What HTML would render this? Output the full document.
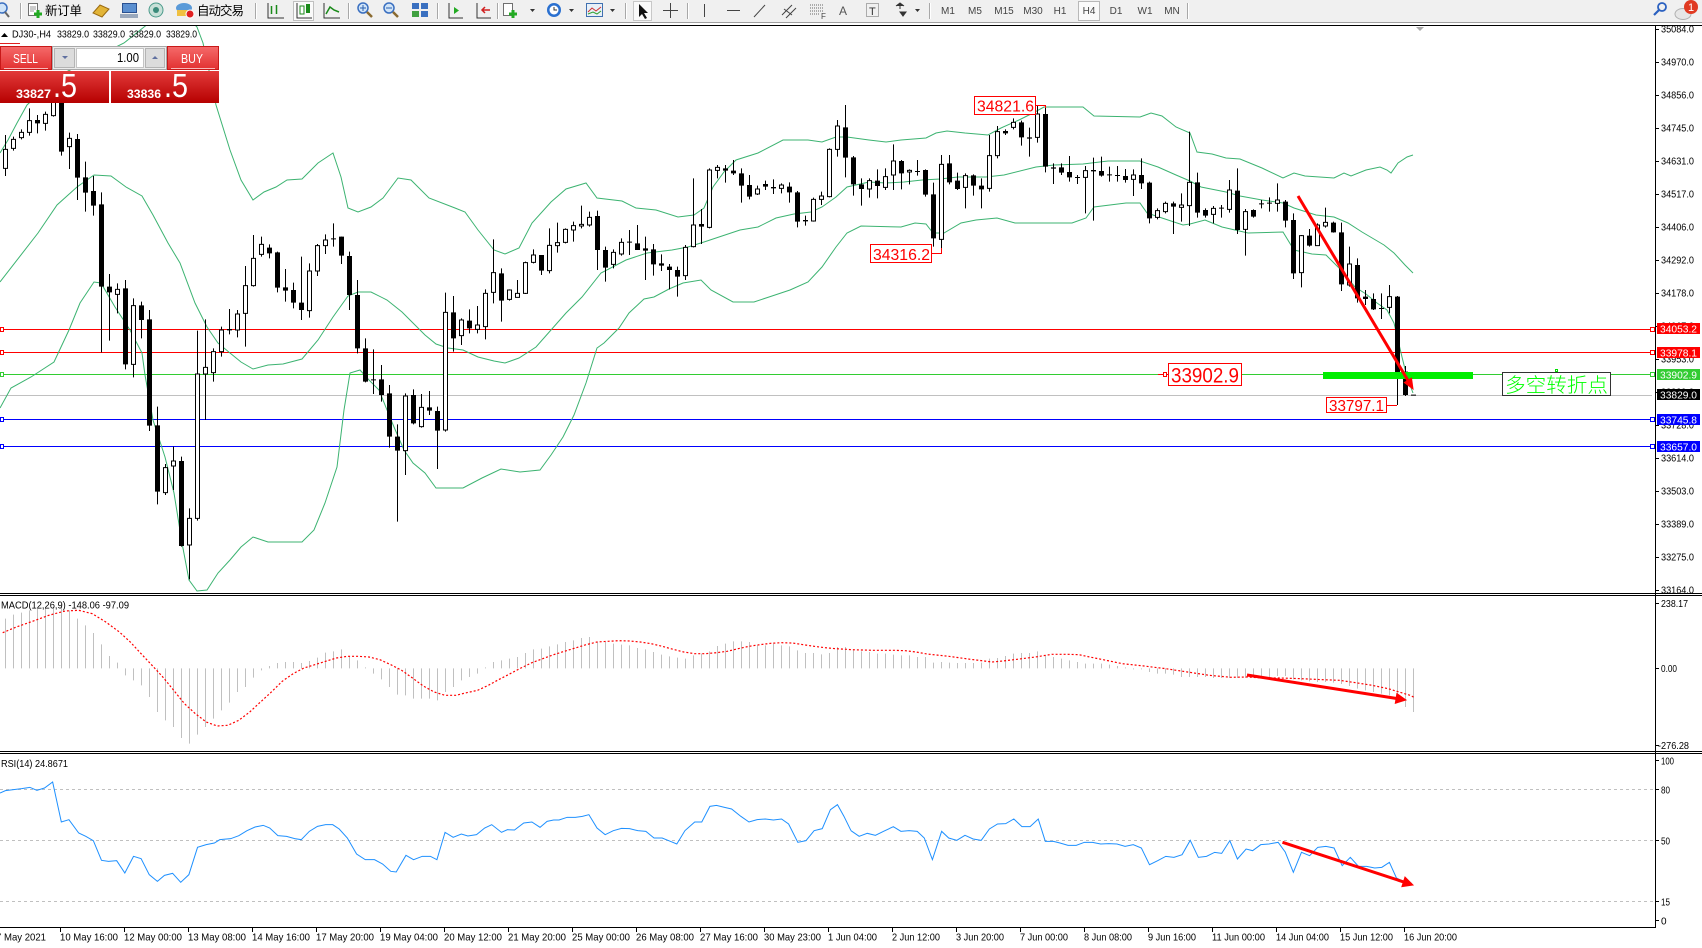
<!DOCTYPE html>
<html><head><meta charset="utf-8"><style>
html,body{margin:0;padding:0;background:#fff;width:1702px;height:948px;overflow:hidden}
svg{display:block}
text{font-family:"Liberation Sans","Noto Sans CJK SC",sans-serif}
</style></head><body>
<svg width="1702" height="948" viewBox="0 0 1702 948" xmlns="http://www.w3.org/2000/svg">
<defs>
<clipPath id="cm"><rect x="0" y="26" width="1655" height="567"/></clipPath>
<clipPath id="cd"><rect x="0" y="596" width="1655" height="155"/></clipPath>
<clipPath id="cr"><rect x="0" y="754" width="1655" height="173"/></clipPath>
<linearGradient id="gh" x1="0" y1="0" x2="0" y2="1"><stop offset="0" stop-color="#f56a6a"/><stop offset="1" stop-color="#e23030"/></linearGradient>
<linearGradient id="gp" x1="0" y1="0" x2="0" y2="1"><stop offset="0" stop-color="#e23a3a"/><stop offset="1" stop-color="#b60000"/></linearGradient>
</defs>

<!-- ================= TOOLBAR ================= -->
<rect x="0" y="0" width="1702" height="22" fill="#f0f0f0"/>
<line x1="0" y1="22.5" x2="1702" y2="22.5" stroke="#a0a0a0"/>
<line x1="0" y1="25.5" x2="1702" y2="25.5" stroke="#000"/>
<g stroke="#a8a8a8"><path d="M20.5 3v16M255.5 3v16M348.5 3v16M437.5 3v16M497.5 3v16M625.5 3v16M687.5 3v16M929.5 3v16M1187.5 3v16"/></g>
<g stroke="#ffffff"><path d="M21.5 3v16M256.5 3v16M349.5 3v16M438.5 3v16M498.5 3v16M626.5 3v16M688.5 3v16M930.5 3v16M1188.5 3v16"/></g>
<circle cx="2" cy="8" r="5" fill="#d0e4f8" stroke="#3a6fc0" stroke-width="1.5"/>
<line x1="5" y1="12" x2="9" y2="17" stroke="#666" stroke-width="2"/>
<rect x="28.5" y="3.5" width="9" height="12" fill="#fff" stroke="#707070"/>
<path d="M30 7h6M30 9h6M30 11h4" stroke="#999"/>
<path d="M34 14h8M38 10v8" stroke="#22aa22" stroke-width="3"/>
<text x="45" y="15" font-size="12.5" textLength="37" fill="#000">新订单</text>
<polygon points="93,13 100,5 109,9 102,17" fill="#e2b437" stroke="#9a6a10"/>
<rect x="122.5" y="3.5" width="14" height="9" fill="#5b8fd0" stroke="#2a5090"/>
<rect x="120" y="14" width="18" height="4" fill="#9aa8bc"/>
<circle cx="156" cy="10" r="7" fill="#c8e0d8" stroke="#4a9a8a"/>
<circle cx="156" cy="10" r="3" fill="#3a8a7a"/>
<ellipse cx="184" cy="8" rx="8" ry="5" fill="#5a9ad8"/>
<rect x="177" y="10" width="12" height="6" fill="#f0c040"/>
<circle cx="190" cy="14" r="4" fill="#e02020" stroke="#fff"/>
<text x="197" y="15" font-size="12.5" textLength="47" fill="#000">自动交易</text>
<path d="M268 3v15h16" stroke="#333" fill="none"/>
<path d="M271.5 6v8M276.5 5v9" stroke="#1a8a1a" stroke-width="1.5"/>
<rect x="293.5" y="1.5" width="20" height="19" fill="#fafafa" stroke="#c0c0c0"/>
<path d="M297 3v15h15" stroke="#333" fill="none"/>
<rect x="300" y="6" width="4" height="8" fill="#fff" stroke="#1a8a1a"/>
<rect x="306" y="4" width="4" height="9" fill="#1a8a1a"/>
<path d="M324 3v15h16" stroke="#333" fill="none"/>
<polyline points="326,14 330,7 334,10 339,12" fill="none" stroke="#1a8a1a" stroke-width="1.5"/>
<circle cx="363" cy="8" r="5" fill="#d0e4f8" stroke="#3a6fc0" stroke-width="1.5"/>
<path d="M360 8h6M363 5v6" stroke="#2a60b0"/>
<line x1="367" y1="12" x2="372" y2="17" stroke="#8a6a30" stroke-width="2.5"/>
<circle cx="389" cy="8" r="5" fill="#d0e4f8" stroke="#3a6fc0" stroke-width="1.5"/>
<path d="M386 8h6" stroke="#2a60b0"/>
<line x1="393" y1="12" x2="398" y2="17" stroke="#8a6a30" stroke-width="2.5"/>
<rect x="412" y="3" width="7" height="6" fill="#3a70c0"/><rect x="421" y="3" width="7" height="6" fill="#3a70c0"/>
<rect x="412" y="11" width="7" height="6" fill="#40a040"/><rect x="421" y="11" width="7" height="6" fill="#3a70c0"/>
<path d="M449 3v15h14" stroke="#333" fill="none"/>
<polygon points="454,7 454,14 459,10.5" fill="#22aa22"/>
<path d="M477 3v15h14" stroke="#333" fill="none"/>
<path d="M482 10h8M485 7l-3 3 3 3" stroke="#d02020" fill="none" stroke-width="1.5"/>
<rect x="503.5" y="3.5" width="9" height="12" fill="#fff" stroke="#707070"/>
<path d="M509 14h8M513 10v8" stroke="#22aa22" stroke-width="3"/>
<polygon points="530,9 535,9 532.5,12" fill="#333"/>
<circle cx="554" cy="10" r="7" fill="#2a70d0"/><circle cx="554" cy="10" r="4.5" fill="#fff"/>
<path d="M554 7v3h3" stroke="#333" fill="none"/>
<polygon points="569,9 574,9 571.5,12" fill="#333"/>
<rect x="586.5" y="3.5" width="16" height="13" fill="#e8f0f8" stroke="#4070b0"/>
<polyline points="588,12 592,8 596,11 601,7" fill="none" stroke="#d03030"/>
<polyline points="588,14 593,12 597,14 601,11" fill="none" stroke="#30a030"/>
<polygon points="610,9 615,9 612.5,12" fill="#333"/>
<rect x="633.5" y="1.5" width="18" height="19" fill="#fafafa" stroke="#c8c8c8"/>
<polygon points="639,4 639,17 642,14 645,19 647,18 644,13 648,13" fill="#111"/>
<path d="M670.5 3v15M663 10.5h15" stroke="#444"/>
<path d="M704.5 4v13" stroke="#444"/>
<path d="M727 10.5h13" stroke="#444"/>
<path d="M754 17l11-12" stroke="#444"/>
<path d="M782 15l10-10M786 18l10-10M784 9l8 6" stroke="#444"/>
<path d="M810 5h14M810 8h14M810 11h14M810 14h10" stroke="#666" stroke-dasharray="1 1"/>
<text x="821" y="19" font-size="8" fill="#444">F</text>
<text x="839" y="15" font-size="12" fill="#555">A</text>
<rect x="866.5" y="3.5" width="12" height="13" fill="none" stroke="#666" stroke-dasharray="1 1"/>
<text x="869" y="15" font-size="11" fill="#333">T</text>
<path d="M896 6l4-3 4 3M900 3v6M900 12l3 4 3-4z" stroke="#333" fill="#333"/>
<polygon points="915,9 920,9 917.5,12" fill="#333"/>
<rect x="1078.5" y="1.5" width="21" height="19" fill="#fafafa" stroke="#b8b8b8"/>
<g font-size="10" fill="#444" text-anchor="middle">
<text x="948" y="14">M1</text><text x="975" y="14">M5</text><text x="1004" y="14">M15</text><text x="1033" y="14">M30</text>
<text x="1060" y="14">H1</text><text x="1089" y="14">H4</text><text x="1116" y="14">D1</text><text x="1145" y="14">W1</text><text x="1172" y="14">MN</text>
</g>
<circle cx="1662" cy="7" r="4" fill="none" stroke="#2a60c0" stroke-width="1.8"/>
<line x1="1659" y1="10" x2="1654" y2="15" stroke="#2a60c0" stroke-width="2.2"/>
<ellipse cx="1683" cy="14" rx="8" ry="5.5" fill="#e6e6e6" stroke="#b0b0b0"/>
<circle cx="1691" cy="7" r="7" fill="#e03a22"/>
<text x="1691" y="11" font-size="11" fill="#fff" text-anchor="middle">1</text>

<!-- ================= MAIN CHART ================= -->
<g clip-path="url(#cm)">
<path d="M0 329.5h1652" stroke="#ff0000"/>
<path d="M0 352.5h1652" stroke="#ff0000"/>
<path d="M0 374.5h1652" stroke="#32cd32"/>
<path d="M0 395.5h1652" stroke="#c0c0c0"/>
<path d="M0 419.5h1652" stroke="#0000ff"/>
<path d="M0 446.5h1652" stroke="#0000ff"/>
<rect x="0.5" y="327.5" width="3" height="4" fill="#fff" stroke="#ff0000"/>
<rect x="0.5" y="350.5" width="3" height="4" fill="#fff" stroke="#ff0000"/>
<rect x="0.5" y="372.5" width="3" height="4" fill="#fff" stroke="#32cd32"/>
<rect x="0.5" y="417.5" width="3" height="4" fill="#fff" stroke="#0000ff"/>
<rect x="0.5" y="444.5" width="3" height="4" fill="#fff" stroke="#0000ff"/>
<rect x="1650.5" y="327.5" width="4" height="4" fill="#fff" stroke="#ff0000"/>
<rect x="1650.5" y="350.5" width="4" height="4" fill="#fff" stroke="#ff0000"/>
<rect x="1650.5" y="372.5" width="4" height="4" fill="#fff" stroke="#32cd32"/>
<rect x="1650.5" y="417.5" width="4" height="4" fill="#fff" stroke="#0000ff"/>
<rect x="1650.5" y="444.5" width="4" height="4" fill="#fff" stroke="#0000ff"/>

<g fill="none" stroke="#3cb371" stroke-width="1">
<polyline points="0,153 8,140 17,123 27,105 60,75 100,55 124,43 144,27 160,15 185,15 197,27 203,43 210,75 216,105 230,150 241,180 253,200 264,192 276,187 287,180 302,179 318,163 333,153 341,177 348,208 358,212 371,207 383,198 398,178 411,180 429,198 455,208 465,212 478,230 494,250 505,254 519,248 532,223 551,202 566,189 586,183 597,198 622,201 636,208 656,210 678,217 694,215 704,208 713,187 724,172 736,160 758,153 783,140 808,140 822,142 836,137 847,137 869,140 886,142 901,140 926,138 936,133 947,131 965,133 988,135 1001,128 1019,120 1033,113 1044,107 1083,107 1094,116 1140,117 1151,113 1162,116 1176,127 1190,133 1197,152 1212,154 1226,158 1240,159 1262,168 1283,178 1294,173 1305,176 1334,178 1344,173 1351,176 1366,170 1380,167 1387,170 1391,173 1398,163 1407,157 1413,155"/>
<polyline points="0,282 38,233 57,205 77,187 94,175 111,176 126,187 142,196 153,215 168,243 180,263 195,303 207,327 218,343 230,353 241,362 253,369 268,365 283,364 302,359 318,340 333,317 348,296 358,292 371,292 387,300 402,312 413,323 425,335 436,344 448,348 463,350 478,357 494,361 505,363 519,358 536,347 551,330 566,313 582,297 601,273 626,260 647,253 672,250 688,247 704,242 719,237 740,230 758,227 776,218 794,214 811,212 822,207 836,197 847,187 869,182 886,183 904,182 922,180 940,179 958,177 986,177 1004,175 1036,167 1054,165 1083,164 1108,161 1140,161 1158,167 1176,175 1190,181 1201,187 1226,192 1240,196 1262,200 1283,203 1294,208 1316,215 1334,217 1348,223 1362,232 1384,245 1394,253 1405,265 1413,273"/>
<polyline points="0,408 11,388 31,377 54,362 69,330 80,303 94,282 101,283 115,307 130,330 142,353 145,375 153,420 165,457 174,493 182,543 189,580 197,591 207,590 218,573 230,560 241,547 253,537 268,542 283,542 302,542 314,530 325,503 337,467 344,410 350,373 360,370 369,380 379,390 387,410 394,427 404,450 413,463 425,473 436,488 463,488 482,478 501,469 520,472 540,470 551,455 563,437 574,415 586,383 597,348 604,343 619,328 629,313 644,299 654,297 669,289 683,283 701,280 711,290 733,302 754,302 769,297 790,290 808,282 822,267 836,247 847,233 861,226 901,227 915,223 926,224 933,233 944,233 961,223 976,220 997,218 1015,223 1072,223 1086,218 1094,207 1126,203 1140,203 1147,213 1162,218 1183,225 1190,224 1205,220 1222,227 1248,233 1283,232 1294,250 1312,254 1326,255 1341,270 1355,287 1366,294 1377,303 1387,310 1394,323 1402,357 1407,377 1413,393"/>
</g>

<g transform="translate(0,90) scale(1,0.3333333)">
<path stroke="#000" stroke-width="1" fill="none" d="M5.5 135V258M13.5 140V182M21.5 118V148M29.5 55V137M37.5 75V130M45.5 65V122M53.5 20V80M61.5 -10V197M69.5 128V237M77.5 132V330M85.5 215V365M93.5 258V377M101.5 307V787M109.5 552V752M117.5 580V670M125.5 570V838M133.5 625V862M141.5 635V745M149.5 660V1023M157.5 950V1243M165.5 1122V1215M173.5 1070V1200M181.5 1100V1370M189.5 1255V1468M197.5 722V1292M205.5 688V990M213.5 775V875M221.5 710V800M229.5 657V733M237.5 660V742M245.5 528V770M253.5 435V590M261.5 440V500M269.5 463V505M277.5 485V607M285.5 537V635M293.5 578V655M301.5 500V690M309.5 520V683M317.5 462V558M325.5 433V492M333.5 400V470M341.5 440V522M349.5 485V660M357.5 570V790M365.5 745V877M373.5 778V912M381.5 825V935M389.5 885V1073M397.5 1003V1295M405.5 910V1155M413.5 898V1003M421.5 912V1013M429.5 903V975M437.5 950V1137M445.5 608V1025M453.5 618V785M461.5 685V765M469.5 658V730M477.5 648V730M485.5 598V748M493.5 448V640M501.5 535V695M509.5 598V632M517.5 570V622M525.5 515V612M533.5 478V520M541.5 495V555M549.5 415V550M557.5 398V488M565.5 415V460M573.5 395V455M581.5 347V415M589.5 365V410M597.5 362V540M605.5 470V575M613.5 478V535M621.5 445V497M629.5 420V495M637.5 405V480M645.5 440V570M653.5 462V557M661.5 493V543M669.5 522V598M677.5 530V620M685.5 465V570M693.5 265V472M701.5 357V462M709.5 235V415M717.5 225V265M725.5 225V278M733.5 210V255M741.5 235V338M749.5 255V328M757.5 287V315M765.5 272V300M773.5 268V312M781.5 280V310M789.5 277V338M797.5 303V412M805.5 377V407M813.5 323V395M821.5 305V345M829.5 175V322M837.5 90V200M845.5 45V262M853.5 198V317M861.5 265V347M869.5 265V323M877.5 238V325M885.5 235V300M893.5 163V300M901.5 210V298M909.5 238V283M917.5 210V257M925.5 238V320M933.5 278V470M941.5 195V492M949.5 195V283M957.5 248V300M965.5 250V355M973.5 253V317M981.5 265V355M989.5 135V305M997.5 108V205M1005.5 118V135M1013.5 85V118M1021.5 92V167M1029.5 113V200M1037.5 48V158M1045.5 47V247M1053.5 220V282M1061.5 220V255M1069.5 198V275M1077.5 255V282M1085.5 228V370M1093.5 203V392M1101.5 200V260M1109.5 230V275M1117.5 228V275M1125.5 237V278M1133.5 238V318M1141.5 205V297M1149.5 275V400M1157.5 355V388M1165.5 335V370M1173.5 335V432M1181.5 310V395M1189.5 125V408M1197.5 248V383M1205.5 355V383M1213.5 348V400M1221.5 345V383M1229.5 270V368M1237.5 235V432M1245.5 357V497M1253.5 358V383M1261.5 330V355M1269.5 322V365M1277.5 280V365M1285.5 330V412M1293.5 370V567M1301.5 435V592M1309.5 417V470M1317.5 400V467M1325.5 353V413M1333.5 395V428M1341.5 398V603M1349.5 470V590M1357.5 505V638M1365.5 600V645M1373.5 610V660M1381.5 610V687M1389.5 585V670M1397.5 618V945M1405.5 828V918"/>
<path fill="#000" d="M35 90h5V100h-5zM59 0h5V185h-5zM75 147h5V263h-5zM83 262h5V308h-5zM91 303h5V347h-5zM99 343h5V590h-5zM107 590h5V607h-5zM123 595h5V823h-5zM139 646h5V690h-5zM147 688h5V1007h-5zM155 1006h5V1205h-5zM179 1113h5V1368h-5zM227 717h5V721h-5zM267 473h5V490h-5zM275 487h5V593h-5zM283 592h5V602h-5zM291 600h5V638h-5zM299 638h5V660h-5zM331 445h5V448h-5zM339 440h5V497h-5zM347 498h5V615h-5zM355 615h5V775h-5zM363 775h5V875h-5zM371 868h5V871h-5zM379 868h5V915h-5zM387 910h5V1040h-5zM395 1040h5V1082h-5zM411 915h5V1000h-5zM427 952h5V962h-5zM435 963h5V1022h-5zM451 667h5V745h-5zM467 692h5V715h-5zM499 550h5V632h-5zM539 495h5V542h-5zM595 378h5V480h-5zM603 480h5V533h-5zM627 455h5V458h-5zM635 460h5V480h-5zM643 475h5V482h-5zM651 478h5V523h-5zM659 520h5V527h-5zM667 530h5V540h-5zM675 540h5V560h-5zM699 402h5V410h-5zM723 235h5V242h-5zM731 242h5V250h-5zM739 250h5V287h-5zM747 285h5V320h-5zM763 282h5V290h-5zM771 291h5V295h-5zM787 290h5V307h-5zM795 307h5V395h-5zM803 390h5V394h-5zM843 112h5V203h-5zM851 202h5V283h-5zM859 283h5V297h-5zM875 272h5V288h-5zM899 213h5V250h-5zM915 243h5V246h-5zM923 240h5V314h-5zM931 313h5V445h-5zM947 220h5V277h-5zM955 272h5V297h-5zM971 256h5V287h-5zM979 287h5V298h-5zM1003 123h5V130h-5zM1019 97h5V142h-5zM1027 142h5V146h-5zM1043 72h5V230h-5zM1051 232h5V236h-5zM1059 232h5V248h-5zM1067 246h5V262h-5zM1075 261h5V264h-5zM1091 240h5V244h-5zM1099 243h5V257h-5zM1107 253h5V256h-5zM1115 255h5V258h-5zM1123 258h5V270h-5zM1139 255h5V280h-5zM1147 278h5V385h-5zM1171 340h5V350h-5zM1195 277h5V368h-5zM1203 360h5V377h-5zM1219 353h5V356h-5zM1235 302h5V420h-5zM1251 360h5V380h-5zM1259 340h5V343h-5zM1267 338h5V341h-5zM1283 335h5V392h-5zM1291 390h5V550h-5zM1307 437h5V467h-5zM1331 398h5V427h-5zM1339 427h5V583h-5zM1355 525h5V625h-5zM1363 620h5V627h-5zM1371 627h5V658h-5zM1379 654h5V657h-5zM1395 620h5V853h-5zM1403 845h5V915h-5zM1411 914h5V917h-5z"/>
<path fill="#fff" stroke="#000" stroke-width="1" vector-effect="non-scaling-stroke" d="M3.5 178h4V235h-4zM11.5 148h4V175h-4zM19.5 127h4V143h-4zM27.5 92h4V127h-4zM43.5 73h4V100h-4zM51.5 30h4V77h-4zM67.5 145h4V170h-4zM115.5 598h4V613h-4zM131.5 647h4V823h-4zM163.5 1133h4V1208h-4zM171.5 1113h4V1128h-4zM187.5 1285h4V1365h-4zM195.5 852h4V1285h-4zM203.5 832h4V852h-4zM211.5 785h4V848h-4zM219.5 720h4V785h-4zM235.5 672h4V720h-4zM243.5 587h4V670h-4zM251.5 505h4V587h-4zM259.5 463h4V493h-4zM307.5 543h4V662h-4zM315.5 467h4V543h-4zM323.5 450h4V467h-4zM403.5 918h4V1082h-4zM419.5 952h4V1010h-4zM443.5 667h4V1020h-4zM459.5 690h4V737h-4zM475.5 705h4V718h-4zM483.5 610h4V710h-4zM491.5 548h4V607h-4zM507.5 600h4V628h-4zM515.5 610h4V622h-4zM523.5 518h4V610h-4zM531.5 495h4V517h-4zM547.5 466h4V542h-4zM555.5 458h4V467h-4zM563.5 418h4V457h-4zM571.5 407h4V420h-4zM579.5 403h4V408h-4zM587.5 382h4V405h-4zM611.5 487h4V523h-4zM619.5 457h4V492h-4zM683.5 472h4V557h-4zM691.5 405h4V470h-4zM707.5 240h4V412h-4zM715.5 232h4V241h-4zM755.5 297h4V312h-4zM779.5 285h4V295h-4zM811.5 328h4V393h-4zM819.5 318h4V328h-4zM827.5 178h4V320h-4zM835.5 108h4V178h-4zM867.5 272h4V297h-4zM883.5 260h4V292h-4zM891.5 213h4V255h-4zM907.5 241h4V246h-4zM939.5 223h4V448h-4zM963.5 257h4V292h-4zM987.5 197h4V295h-4zM995.5 125h4V197h-4zM1011.5 97h4V112h-4zM1035.5 72h4V142h-4zM1083.5 242h4V262h-4zM1131.5 255h4V268h-4zM1155.5 362h4V382h-4zM1163.5 340h4V365h-4zM1179.5 345h4V352h-4zM1187.5 277h4V347h-4zM1211.5 355h4V373h-4zM1227.5 300h4V358h-4zM1243.5 365h4V418h-4zM1275.5 330h4V340h-4zM1299.5 437h4V548h-4zM1315.5 405h4V467h-4zM1323.5 397h4V408h-4zM1347.5 522h4V585h-4zM1387.5 620h4V652h-4z"/>
</g>

<rect x="1323" y="372" width="150" height="7" fill="#00ee00"/>
<line x1="1298" y1="196" x2="1408" y2="380.5" stroke="#ff0000" stroke-width="3"/>
<polygon points="1413,389 1404.3,382.6 1411.5,378.2" fill="#ff0000" stroke="#ff0000"/>

<path d="M1036 105.5h9.5V108" stroke="#ff0000" fill="none"/>
<rect x="974.5" y="96.5" width="61" height="18" fill="#fff" stroke="#ff0000"/>
<text x="977" y="111.5" font-size="16" fill="#ff0000" textLength="57" lengthAdjust="spacingAndGlyphs">34821.6</text>
<path d="M932 253.5h9.5V248" stroke="#ff0000" fill="none"/>
<rect x="870.5" y="244.5" width="61" height="18" fill="#fff" stroke="#ff0000"/>
<text x="873" y="260" font-size="16" fill="#ff0000" textLength="57" lengthAdjust="spacingAndGlyphs">34316.2</text>
<path d="M1158 374.5h10" stroke="#ff0000"/>
<rect x="1163.5" y="372.5" width="3" height="4" fill="#fff" stroke="#ff0000"/>
<rect x="1168.5" y="363.5" width="73" height="22" fill="#fff" stroke="#ff0000"/>
<text x="1171" y="382.5" font-size="21" fill="#ff0000" textLength="68" lengthAdjust="spacingAndGlyphs">33902.9</text>
<path d="M1387 405.5h10" stroke="#ff0000"/>
<rect x="1326.5" y="397.5" width="60" height="15" fill="#fff" stroke="#ff0000"/>
<text x="1329" y="411" font-size="16" fill="#ff0000" textLength="55" lengthAdjust="spacingAndGlyphs">33797.1</text>
<rect x="1502.5" y="372.5" width="108" height="23" fill="#fff" stroke="#333"/>
<rect x="1555.5" y="369.5" width="2" height="2" fill="none" stroke="#00dd00"/>
<text x="1505" y="392" font-size="20" font-weight="300" fill="#00ff00" textLength="103" lengthAdjust="spacingAndGlyphs" style='font-family:"Liberation Sans","Noto Sans CJK SC",sans-serif'>多空转折点</text>

<polygon points="1,37 8,37 4.5,33" fill="#000"/>
<text x="12" y="37.5" font-size="10" fill="#000" textLength="39" lengthAdjust="spacingAndGlyphs">DJ30-,H4</text>
<text x="57" y="37.5" font-size="10" fill="#000" textLength="32" lengthAdjust="spacingAndGlyphs">33829.0</text>
<text x="93" y="37.5" font-size="10" fill="#000" textLength="32" lengthAdjust="spacingAndGlyphs">33829.0</text>
<text x="129" y="37.5" font-size="10" fill="#000" textLength="32" lengthAdjust="spacingAndGlyphs">33829.0</text>
<text x="166" y="37.5" font-size="10" fill="#000" textLength="31" lengthAdjust="spacingAndGlyphs">33829.0</text>
<polygon points="1416,27 1424,27 1420,31" fill="#a8a8a8"/>
</g>

<line x1="0" y1="43.5" x2="20" y2="43.5" stroke="#e02020"/>
<rect x="0.5" y="46.5" width="51" height="23" fill="url(#gh)" stroke="#c81818"/>
<text x="13" y="63" font-size="12.5" fill="#fff" textLength="25" lengthAdjust="spacingAndGlyphs">SELL</text>
<line x1="4" y1="68.5" x2="48" y2="68.5" stroke="#f8b8b8"/>
<rect x="52.5" y="46.5" width="114" height="23" fill="#ececec" stroke="#a8a8a8"/>
<rect x="54.5" y="48.5" width="20" height="19" fill="#dcdcdc" stroke="#b4b4b4"/>
<polygon points="62,56 68,56 65,59" fill="#6070a0"/>
<rect x="76.5" y="48.5" width="67" height="19" fill="#fff" stroke="#c4c4c4"/>
<text x="117" y="62" font-size="12.5" fill="#000" textLength="22" lengthAdjust="spacingAndGlyphs">1.00</text>
<rect x="145.5" y="48.5" width="19" height="19" fill="#dcdcdc" stroke="#b4b4b4"/>
<polygon points="152,59 158,59 155,56" fill="#6070a0"/>
<rect x="167.5" y="46.5" width="51" height="23" fill="url(#gh)" stroke="#c81818"/>
<text x="181" y="63" font-size="12.5" fill="#fff" textLength="22" lengthAdjust="spacingAndGlyphs">BUY</text>
<line x1="171" y1="68.5" x2="215" y2="68.5" stroke="#f8b8b8"/>
<rect x="0" y="71" width="109" height="32" fill="url(#gp)"/>
<rect x="111" y="71" width="108" height="32" fill="url(#gp)"/>
<text x="16" y="98" font-size="11.5" font-weight="bold" fill="#fff" textLength="35" lengthAdjust="spacingAndGlyphs">33827</text>
<text x="53" y="97" font-size="33" fill="#fff" textLength="24" lengthAdjust="spacingAndGlyphs">.5</text>
<text x="127" y="98" font-size="11.5" font-weight="bold" fill="#fff" textLength="34" lengthAdjust="spacingAndGlyphs">33836</text>
<text x="164" y="97" font-size="33" fill="#fff" textLength="24" lengthAdjust="spacingAndGlyphs">.5</text>

<path d="M0 593.5h1702M0 595.5h1702M0 751.5h1702M0 753.5h1702M0 927.5h1656" stroke="#000"/>
<path d="M1655.5 26v902" stroke="#000"/>

<path stroke="#000" d="M1655 29.5h4M1655 62.5h4M1655 95.5h4M1655 128.5h4M1655 161.5h4M1655 194.5h4M1655 227.5h4M1655 260.5h4M1655 293.5h4M1655 326.5h4M1655 359.5h4M1655 392.5h4M1655 425.5h4M1655 458.5h4M1655 491.5h4M1655 524.5h4M1655 557.5h4M1655 590.5h4M1655 603.5h4M1655 668.5h4M1655 745.5h4M1655 760.5h4M1655 789.5h4M1655 840.5h4M1655 901.5h4M1655 920.5h4"/>
<g font-size="10" fill="#000">
<text x="1661" y="32.5" textLength="33" lengthAdjust="spacingAndGlyphs">35084.0</text>
<text x="1661" y="65.5" textLength="33" lengthAdjust="spacingAndGlyphs">34970.0</text>
<text x="1661" y="98.5" textLength="33" lengthAdjust="spacingAndGlyphs">34856.0</text>
<text x="1661" y="131.5" textLength="33" lengthAdjust="spacingAndGlyphs">34745.0</text>
<text x="1661" y="164.5" textLength="33" lengthAdjust="spacingAndGlyphs">34631.0</text>
<text x="1661" y="197.5" textLength="33" lengthAdjust="spacingAndGlyphs">34517.0</text>
<text x="1661" y="230.5" textLength="33" lengthAdjust="spacingAndGlyphs">34406.0</text>
<text x="1661" y="263.5" textLength="33" lengthAdjust="spacingAndGlyphs">34292.0</text>
<text x="1661" y="296.5" textLength="33" lengthAdjust="spacingAndGlyphs">34178.0</text>
<text x="1661" y="329.5" textLength="33" lengthAdjust="spacingAndGlyphs">34067.0</text>
<text x="1661" y="362.5" textLength="33" lengthAdjust="spacingAndGlyphs">33953.0</text>
<text x="1661" y="395.5" textLength="33" lengthAdjust="spacingAndGlyphs">33839.0</text>
<text x="1661" y="428.5" textLength="33" lengthAdjust="spacingAndGlyphs">33728.0</text>
<text x="1661" y="461.5" textLength="33" lengthAdjust="spacingAndGlyphs">33614.0</text>
<text x="1661" y="494.5" textLength="33" lengthAdjust="spacingAndGlyphs">33503.0</text>
<text x="1661" y="527.5" textLength="33" lengthAdjust="spacingAndGlyphs">33389.0</text>
<text x="1661" y="560.5" textLength="33" lengthAdjust="spacingAndGlyphs">33275.0</text>
<text x="1661" y="593.5" textLength="33" lengthAdjust="spacingAndGlyphs">33164.0</text>
<text x="1661" y="607" textLength="27" lengthAdjust="spacingAndGlyphs">238.17</text>
<text x="1661" y="672" textLength="16" lengthAdjust="spacingAndGlyphs">0.00</text>
<text x="1658" y="749" textLength="31" lengthAdjust="spacingAndGlyphs">-276.28</text>
<text x="1661" y="764.5" textLength="13" lengthAdjust="spacingAndGlyphs">100</text>
<text x="1661" y="793.5" textLength="9" lengthAdjust="spacingAndGlyphs">80</text>
<text x="1661" y="844.5" textLength="9" lengthAdjust="spacingAndGlyphs">50</text>
<text x="1661" y="905.5" textLength="9" lengthAdjust="spacingAndGlyphs">15</text>
<text x="1661" y="924.5">0</text>
</g>
<g font-size="10.5" fill="#fff">
<rect x="1657" y="323" width="43" height="11" fill="#ff0000"/>
<text x="1660" y="332.5" textLength="37" lengthAdjust="spacingAndGlyphs">34053.2</text>
<rect x="1657" y="347" width="43" height="11" fill="#ff0000"/>
<text x="1660" y="356.5" textLength="37" lengthAdjust="spacingAndGlyphs">33978.1</text>
<rect x="1657" y="369" width="43" height="11" fill="#33cc33"/>
<text x="1660" y="378.5" textLength="37" lengthAdjust="spacingAndGlyphs">33902.9</text>
<rect x="1657" y="389" width="43" height="11" fill="#000"/>
<text x="1660" y="398.5" textLength="37" lengthAdjust="spacingAndGlyphs">33829.0</text>
<rect x="1657" y="414" width="43" height="11" fill="#0000ff"/>
<text x="1660" y="423.5" textLength="37" lengthAdjust="spacingAndGlyphs">33745.8</text>
<rect x="1657" y="441" width="43" height="11" fill="#0000ff"/>
<text x="1660" y="450.5" textLength="37" lengthAdjust="spacingAndGlyphs">33657.0</text>
</g>

<!-- ================= MACD ================= -->
<g clip-path="url(#cd)">
<g transform="translate(0,592) scale(1,0.3333333)">
<path stroke="#c0c0c0" stroke-width="1" fill="none" d="M5.5 229V80M13.5 229V68M21.5 229V62M29.5 229V55M37.5 229V50M45.5 229V48M53.5 229V45M61.5 229V42M69.5 229V55M77.5 229V80M85.5 229V100M93.5 229V123M101.5 229V157M109.5 229V192M117.5 229V212M125.5 229V250M133.5 229V265M141.5 229V280M149.5 229V315M157.5 229V360M165.5 229V385M173.5 229V405M181.5 229V438M189.5 229V455M197.5 229V428M205.5 229V405M213.5 229V380M221.5 229V355M229.5 229V332M237.5 229V300M245.5 229V285M253.5 229V257M261.5 229V235M269.5 229V222M277.5 229V213M285.5 229V210M293.5 229V210M301.5 229V213M309.5 229V207M317.5 229V197M325.5 229V182M333.5 229V178M341.5 229V172M349.5 229V192M357.5 229V205M365.5 229V226M373.5 229V245M381.5 229V262M389.5 229V285M397.5 229V308M405.5 229V310M413.5 229V320M421.5 229V320M429.5 229V320M437.5 229V325M445.5 229V300M453.5 229V285M461.5 229V265M469.5 229V255M477.5 229V245M485.5 229V226M493.5 229V210M501.5 229V205M509.5 229V200M517.5 229V195M525.5 229V183M533.5 229V172M541.5 229V170M549.5 229V163M557.5 229V157M565.5 229V150M573.5 229V145M581.5 229V138M589.5 229V135M597.5 229V150M605.5 229V150M613.5 229V155M621.5 229V158M629.5 229V160M637.5 229V168M645.5 229V172M653.5 229V180M661.5 229V188M669.5 229V193M677.5 229V197M685.5 229V200M693.5 229V190M701.5 229V185M709.5 229V178M717.5 229V162M725.5 229V155M733.5 229V148M741.5 229V148M749.5 229V150M757.5 229V160M765.5 229V160M773.5 229V155M781.5 229V160M789.5 229V163M797.5 229V175M805.5 229V183M813.5 229V183M821.5 229V187M829.5 229V183M837.5 229V165M845.5 229V165M853.5 229V175M861.5 229V178M869.5 229V180M877.5 229V185M885.5 229V185M893.5 229V188M901.5 229V190M909.5 229V190M917.5 229V195M925.5 229V195M933.5 229V212M941.5 229V210M949.5 229V212M957.5 229V213M965.5 229V213M973.5 229V213M981.5 229V212M989.5 229V200M997.5 229V198M1005.5 229V192M1013.5 229V185M1021.5 229V183M1029.5 229V183M1037.5 229V178M1045.5 229V190M1053.5 229V195M1061.5 229V200M1069.5 229V205M1077.5 229V210M1085.5 229V215M1093.5 229V215M1101.5 229V215M1109.5 229V218M1117.5 229V222M1125.5 229V226M1133.5 229V232M1141.5 229V232M1149.5 229V240M1157.5 229V245M1165.5 229V245M1173.5 229V248M1181.5 229V255M1189.5 229V255M1197.5 229V255M1205.5 229V255M1213.5 229V258M1221.5 229V258M1229.5 229V258M1237.5 229V258M1245.5 229V258M1253.5 229V250M1261.5 229V255M1269.5 229V255M1277.5 229V252M1285.5 229V252M1293.5 229V262M1301.5 229V265M1309.5 229V268M1317.5 229V270M1325.5 229V270M1333.5 229V272M1341.5 229V276M1349.5 229V282M1357.5 229V290M1365.5 229V295M1373.5 229V300M1381.5 229V305M1389.5 229V310M1397.5 229V325M1405.5 229V345M1413.5 229V360"/>
</g>
<polyline fill="none" stroke="#ff0000" stroke-width="1.2" stroke-dasharray="2 2" points="2.7,632.7 16.3,627 32.6,621.3 48.8,615.3 65.1,611 78.7,610.3 92.3,613.7 105.8,622 119.4,632 130.3,642 141.1,653.7 152,665.3 162.8,677 173.7,690.3 184.5,703.7 195.4,713.7 206.2,722 217.1,726 227.9,725.3 238.8,720.3 249.7,712 260.5,702 271.4,692 282.2,681.3 293.1,673.7 303.9,668 314.8,664.7 325.6,661.3 336.5,658 347.3,656.3 358.2,656.3 369,657 379.9,659.7 390.8,664.7 401.6,670.3 412.5,678 423.3,686 434.2,692 445,695.3 455.9,695.3 466.7,692.7 477.6,690.3 488.4,685.3 499.3,679.3 510.2,673.7 521,668 531.9,662.7 542.7,658.7 553.6,654.7 564.4,651.3 575.3,648 586.1,644.7 597,642 607.8,641.3 618.7,640.7 629.6,641 640.4,642 651.3,643.7 662.1,646.3 673,649.3 683.8,652 694.7,653.7 705.5,653.7 716.4,652.7 727.2,651.3 738.1,648.7 749,646.3 759.8,644.7 770.7,643.3 781.5,642.7 792.4,643 803.2,644.7 814.1,646.3 824.9,647.7 835.8,648.7 846.7,649.3 851,649.7 872.7,650.3 894.4,650.3 905.3,650.7 916.1,652 927,654 948.7,656.3 970.4,659.3 992.1,662 1003,661 1013.8,659.7 1035.5,657 1051.8,654.3 1068.1,654.3 1079,654.7 1089.8,657 1106.1,660.3 1122.4,663.7 1144.1,666 1165.8,668.7 1187.5,672 1209.2,675.3 1230.9,677.3 1247.2,677 1263.5,678 1279.7,678 1301.4,678.7 1323.1,679.7 1339.4,680.3 1355.7,682.7 1372,685.3 1388.3,688.7 1399.1,692 1410,695.3 1415.4,698"/>
<line x1="1247" y1="675" x2="1396" y2="698.4" stroke="#ff0000" stroke-width="3"/>
<polygon points="1406,700 1396.9,693.5 1395.3,703.3" fill="#ff0000" stroke="#ff0000"/>
</g>
<text x="1" y="608.5" font-size="10" fill="#000" textLength="128" lengthAdjust="spacingAndGlyphs">MACD(12,26,9) -148.06 -97.09</text>

<!-- ================= RSI ================= -->
<g clip-path="url(#cr)">
<path d="M0 789.5h1655M0 840.5h1655M0 901.5h1655" stroke="#c0c0c0" stroke-dasharray="3 3"/>
<polyline transform="translate(0,748) scale(0.54274,0.3333333)" vector-effect="non-scaling-stroke" fill="none" stroke="#1e90ff" stroke-width="1" points="0,135 10,128 25,125 40,122 55,118 68,127 82,120 97,102 113,222 127,215 145,255 158,265 172,278 187,337 200,340 215,338 230,375 246,325 260,332 275,380 290,400 303,382 318,376 333,403 348,380 364,298 380,290 395,285 405,275 425,272 440,263 455,248 470,237 485,232 497,240 512,263 528,265 543,272 555,275 570,250 585,235 600,230 613,230 625,243 640,270 657,318 673,335 690,335 705,348 720,370 730,372 748,322 762,335 778,325 793,325 805,335 820,253 835,268 850,258 862,264 878,260 893,240 906,230 924,253 935,245 948,246 965,225 980,222 995,238 1008,220 1020,216 1030,216 1045,208 1060,208 1073,205 1085,200 1100,240 1115,260 1130,248 1145,241 1160,242 1175,248 1190,250 1205,270 1220,270 1235,280 1247,288 1262,248 1280,222 1293,222 1308,175 1320,172 1335,178 1348,183 1365,205 1380,222 1395,215 1410,213 1425,216 1440,213 1453,228 1470,283 1485,278 1500,248 1515,242 1530,185 1543,170 1555,205 1568,248"/>
<polyline transform="translate(851,748) scale(0.54274,0.3333333)" vector-effect="non-scaling-stroke" fill="none" stroke="#1e90ff" stroke-width="1" points="0,248 15,265 30,256 45,262 60,250 78,236 92,250 107,248 122,250 135,270 150,335 167,250 180,270 195,277 210,262 225,273 240,277 255,243 270,228 285,227 300,213 315,236 330,236 345,213 358,280 373,280 385,285 400,292 415,292 430,283 445,283 460,288 475,287 490,288 505,295 520,290 535,300 550,350 565,338 580,325 595,328 610,320 625,277 640,328 655,325 670,313 683,316 698,278 712,333 728,303 740,308 755,290 770,288 787,283 800,312 815,373 830,313 845,323 860,298 875,295 890,300 905,353 920,328 935,355 950,355 965,360 978,358 992,343 1005,390 1018,400 1033,406"/>
<line x1="1282.5" y1="842.3" x2="1403.5" y2="881.9" stroke="#ff0000" stroke-width="3"/>
<polygon points="1413,885 1401.9,886.6 1405,877.1" fill="#ff0000" stroke="#ff0000"/>
</g>
<text x="1" y="767" font-size="10" fill="#000" textLength="67" lengthAdjust="spacingAndGlyphs">RSI(14) 24.8671</text>

<!-- ================= TIME AXIS ================= -->
<path stroke="#000" d="M60.5 927v5M124.5 927v5M188.5 927v5M252.5 927v5M316.5 927v5M380.5 927v5M444.5 927v5M508.5 927v5M572.5 927v5M636.5 927v5M700.5 927v5M764.5 927v5M828.5 927v5M892.5 927v5M956.5 927v5M1020.5 927v5M1084.5 927v5M1148.5 927v5M1212.5 927v5M1276.5 927v5M1340.5 927v5M1404.5 927v5"/>
<g font-size="10.5" fill="#000">
<text x="-4" y="940.5" textLength="50" lengthAdjust="spacingAndGlyphs">7 May 2021</text>
<text x="60" y="940.5" textLength="58" lengthAdjust="spacingAndGlyphs">10 May 16:00</text>
<text x="124" y="940.5" textLength="58" lengthAdjust="spacingAndGlyphs">12 May 00:00</text>
<text x="188" y="940.5" textLength="58" lengthAdjust="spacingAndGlyphs">13 May 08:00</text>
<text x="252" y="940.5" textLength="58" lengthAdjust="spacingAndGlyphs">14 May 16:00</text>
<text x="316" y="940.5" textLength="58" lengthAdjust="spacingAndGlyphs">17 May 20:00</text>
<text x="380" y="940.5" textLength="58" lengthAdjust="spacingAndGlyphs">19 May 04:00</text>
<text x="444" y="940.5" textLength="58" lengthAdjust="spacingAndGlyphs">20 May 12:00</text>
<text x="508" y="940.5" textLength="58" lengthAdjust="spacingAndGlyphs">21 May 20:00</text>
<text x="572" y="940.5" textLength="58" lengthAdjust="spacingAndGlyphs">25 May 00:00</text>
<text x="636" y="940.5" textLength="58" lengthAdjust="spacingAndGlyphs">26 May 08:00</text>
<text x="700" y="940.5" textLength="58" lengthAdjust="spacingAndGlyphs">27 May 16:00</text>
<text x="764" y="940.5" textLength="57" lengthAdjust="spacingAndGlyphs">30 May 23:00</text>
<text x="828" y="940.5" textLength="49" lengthAdjust="spacingAndGlyphs">1 Jun 04:00</text>
<text x="892" y="940.5" textLength="48" lengthAdjust="spacingAndGlyphs">2 Jun 12:00</text>
<text x="956" y="940.5" textLength="48" lengthAdjust="spacingAndGlyphs">3 Jun 20:00</text>
<text x="1020" y="940.5" textLength="48" lengthAdjust="spacingAndGlyphs">7 Jun 00:00</text>
<text x="1084" y="940.5" textLength="48" lengthAdjust="spacingAndGlyphs">8 Jun 08:00</text>
<text x="1148" y="940.5" textLength="48" lengthAdjust="spacingAndGlyphs">9 Jun 16:00</text>
<text x="1212" y="940.5" textLength="53" lengthAdjust="spacingAndGlyphs">11 Jun 00:00</text>
<text x="1276" y="940.5" textLength="53" lengthAdjust="spacingAndGlyphs">14 Jun 04:00</text>
<text x="1340" y="940.5" textLength="53" lengthAdjust="spacingAndGlyphs">15 Jun 12:00</text>
<text x="1404" y="940.5" textLength="53" lengthAdjust="spacingAndGlyphs">16 Jun 20:00</text>
</g>
</svg>
</body></html>
